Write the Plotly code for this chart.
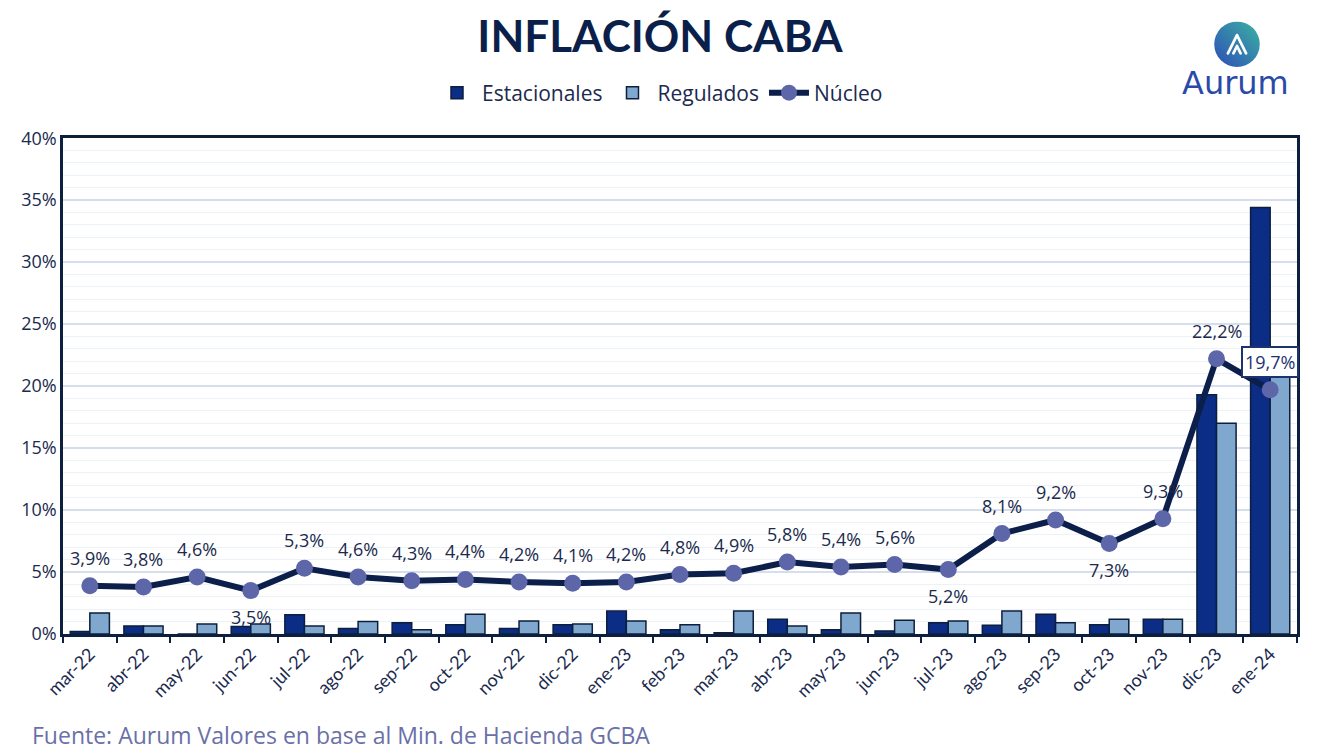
import base64
import plotly.graph_objects as go

categories = ["mar-22", "abr-22", "may-22", "jun-22", "jul-22", "ago-22", "sep-22", "oct-22",
              "nov-22", "dic-22", "ene-23", "feb-23", "mar-23", "abr-23", "may-23", "jun-23",
              "jul-23", "ago-23", "sep-23", "oct-23", "nov-23", "dic-23", "ene-24"]
estacionales = [0.2, 0.65, 0.0, 0.6, 1.55, 0.45, 0.9, 0.75, 0.45, 0.75, 1.85, 0.35, 0.1,
                1.2, 0.35, 0.25, 0.9, 0.7, 1.6, 0.75, 1.2, 19.3, 34.4]
regulados = [1.7, 0.65, 0.8, 0.8, 0.65, 1.0, 0.35, 1.6, 1.05, 0.8, 1.05, 0.75, 1.85,
             0.65, 1.7, 1.1, 1.05, 1.85, 0.9, 1.2, 1.2, 17.0, 21.5]
nucleo = [3.9, 3.8, 4.6, 3.5, 5.3, 4.6, 4.3, 4.4, 4.2, 4.1, 4.2, 4.8, 4.9, 5.8, 5.4, 5.6,
          5.2, 8.1, 9.2, 7.3, 9.3, 22.2, 19.7]
labels_below = ["jun-22", "jul-23", "oct-23"]
boxed_label = "ene-24"
y_ticks = [0, 5, 10, 15, 20, 25, 30, 35, 40]
y_tick_text = ["0%", "5%", "10%", "15%", "20%", "25%", "30%", "35%", "40%"]

FONT = "Open Sans"
TXT = "#1b2a4e"
DARK = "#0c1f3d"

fig = go.Figure()
fig.add_trace(go.Bar(x=categories, y=estacionales, name="Estacionales",
                     marker=dict(color="#0b2d86", line=dict(color=DARK, width=1.5))))
fig.add_trace(go.Bar(x=categories, y=regulados, name="Regulados",
                     marker=dict(color="#80a8cf", line=dict(color=DARK, width=1.5))))
fig.add_trace(go.Scatter(x=categories, y=nucleo, name="Núcleo", mode="lines+markers",
                         line=dict(color="#0c1f4a", width=6),
                         marker=dict(color="#5c66a8", size=17)))

for c, v in zip(categories, nucleo):
    txt = f"{v:.1f}".replace(".", ",") + "%"
    if c == boxed_label:
        fig.add_annotation(x=c, y=v, text=txt, showarrow=False, yshift=28,
                           font=dict(family=FONT, size=18, color="#1c3370"),
                           bgcolor="white", bordercolor="#1c3370", borderwidth=2, borderpad=2)
    else:
        fig.add_annotation(x=c, y=v, text=txt, showarrow=False,
                           yshift=-26 if c in labels_below else 28,
                           font=dict(family=FONT, size=18, color=TXT))

fig.add_annotation(xref="paper", yref="paper", x=(30 - 63) / 1234, y=(634 - 736) / 501,
                   xanchor="left", yanchor="middle", showarrow=False,
                   text="Fuente: Aurum Valores en base al Min. de Hacienda GCBA",
                   font=dict(family=FONT, size=23, color="#6a70a8"))

# Logo
svg = ('<svg xmlns="http://www.w3.org/2000/svg" viewBox="0 0 100 100">'
       '<defs><linearGradient id="g" x1="1" y1="0" x2="0" y2="1">'
       '<stop offset="0" stop-color="#3bb3a3"/><stop offset="1" stop-color="#2d4db6"/>'
       '</linearGradient></defs><circle cx="50" cy="50" r="50" fill="url(#g)"/>'
       '<path d="M30 70 L50 30 L70 70 M42 70 L50 54 L58 70" stroke="white" stroke-width="6" '
       'fill="none" stroke-linejoin="round" stroke-linecap="round"/></svg>')
src = "data:image/svg+xml;base64," + base64.b64encode(svg.encode()).decode()
fig.add_layout_image(source=src, xref="paper", yref="paper",
                     x=(1237 - 63) / 1234, y=(634 - 38) / 501,
                     sizex=46 / 1234, sizey=46 / 501, xanchor="center", yanchor="middle",
                     sizing="contain", layer="above")
fig.add_annotation(xref="paper", yref="paper", x=(1235 - 63) / 1234, y=(634 - 77) / 501,
                   text="Aurum", showarrow=False, xanchor="center", yanchor="middle",
                   font=dict(family="DejaVu Sans", size=32, color="#2a4aa8"))

fig.update_layout(
    width=1320, height=756,
    margin=dict(l=63, r=23, t=133, b=122),
    paper_bgcolor="white", plot_bgcolor="white",
    barmode="group", bargap=0.27, bargroupgap=0,
    title=dict(text="<b>INFLACIÓN CABA</b>", xref="container", x=0.5, xanchor="center",
               yref="container", y=1 - 37 / 756, yanchor="middle",
               font=dict(family="Lato", size=44, color="#0b1f4b")),
    legend=dict(orientation="h", xref="container", x=0.5, xanchor="center",
                yref="container", y=1 - 93 / 756, yanchor="middle",
                font=dict(family=FONT, size=21, color=TXT), itemwidth=40,
                traceorder="normal"),
    showlegend=True,
)
fig.update_xaxes(type="category", range=[-0.5, len(categories) - 0.5],
                 showline=True, mirror=True, linecolor=DARK, linewidth=2.5,
                 ticks="outside", tickson="boundaries", ticklen=6, tickwidth=2, tickcolor=DARK,
                 tickangle=-45, tickfont=dict(family="Lato", size=18, color=TXT), showgrid=False)
fig.update_yaxes(range=[0, 40], tickmode="array", tickvals=y_ticks, ticktext=y_tick_text,
                 showline=True, mirror=True,
                 linecolor=DARK, linewidth=2.5, zeroline=False,
                 gridcolor="#d6deed", gridwidth=1.5,
                 minor=dict(dtick=1, showgrid=True, gridcolor="#edf1f8", gridwidth=1),
                 tickfont=dict(family=FONT, size=18, color=TXT), ticks="")

fig.write_html("out.html")
